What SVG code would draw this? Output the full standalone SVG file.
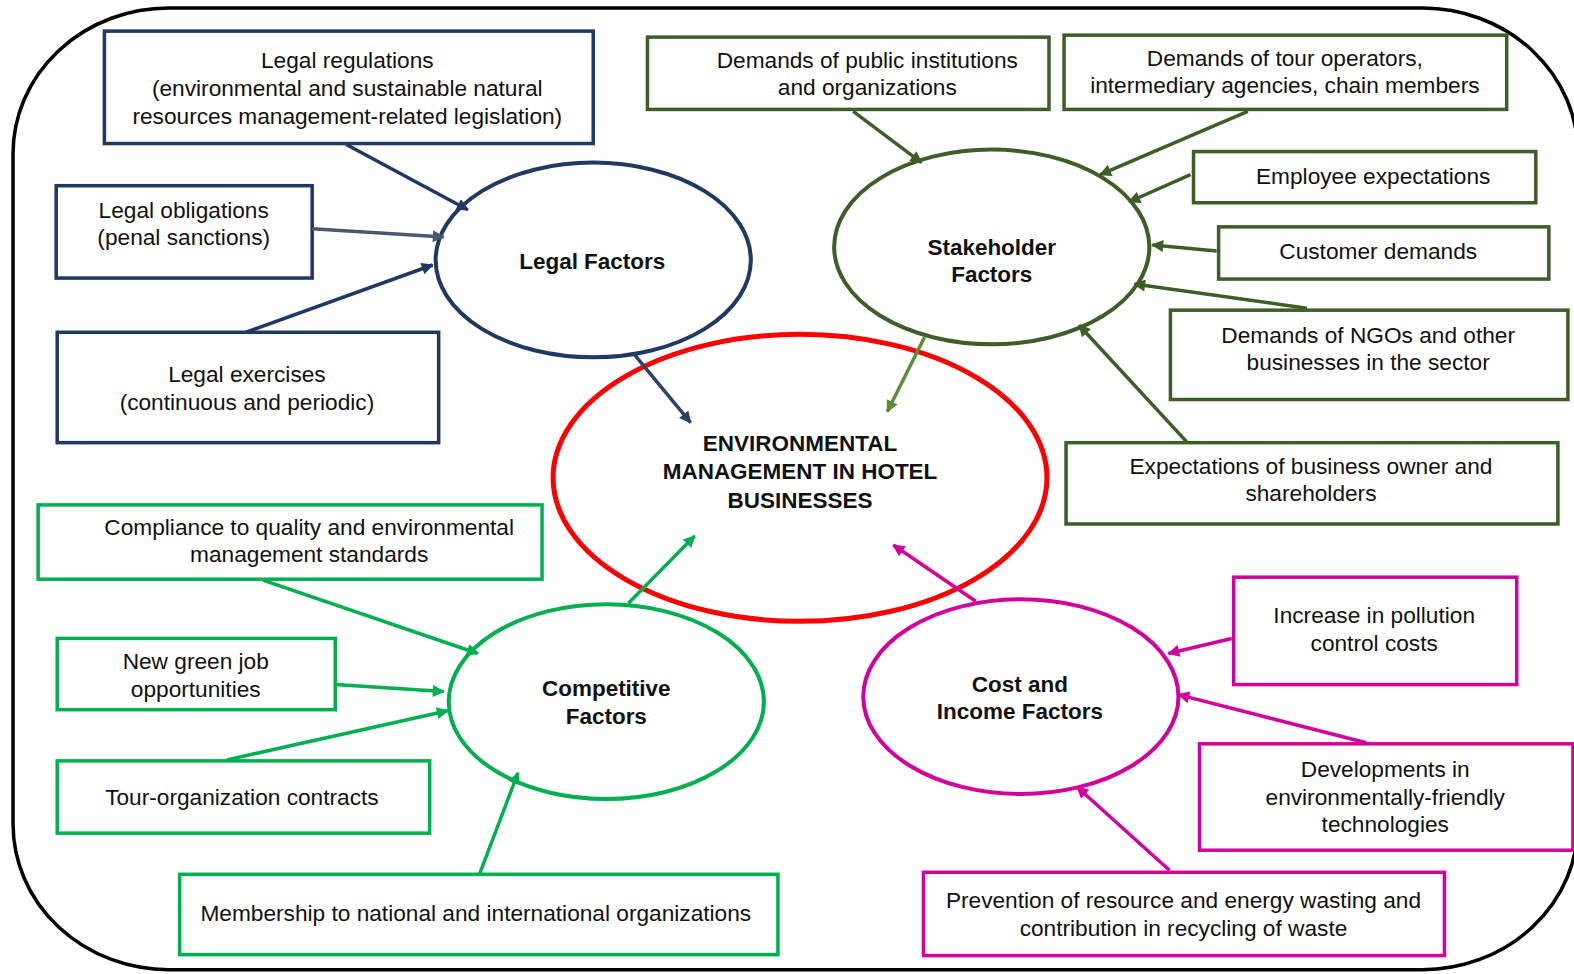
<svg xmlns="http://www.w3.org/2000/svg" width="1574" height="974" viewBox="0 0 1574 974">
  <style>
    text { font-family: "Liberation Sans", Arial, sans-serif; font-size: 22.6px; fill: #111; text-anchor: middle; }
    .b { font-weight: bold; font-size: 22.4px; }
    .box { fill: #fff; stroke-width: 3.5; }
    .ell { fill: #fff; stroke-width: 4; }
    .legal { stroke: #1f3864; }
    .stake { stroke: #3d5e26; }
    .comp { stroke: #00b050; }
    .cost { stroke: #d4009c; }
    .arr { fill: none; stroke-width: 3.5; }
  </style>
  <defs>
    <marker id="mLegal" viewBox="0 0 10 10" refX="9" refY="5" markerWidth="14" markerHeight="12" markerUnits="userSpaceOnUse" orient="auto"><path d="M0,0 L10,5 L0,10 Z" fill="#1f3864"/></marker>
    <marker id="mLegalGrey" viewBox="0 0 10 10" refX="9" refY="5" markerWidth="14" markerHeight="12" markerUnits="userSpaceOnUse" orient="auto"><path d="M0,0 L10,5 L0,10 Z" fill="#4a5873"/></marker>
    <marker id="mLegalOut" viewBox="0 0 10 10" refX="9" refY="5" markerWidth="14" markerHeight="12" markerUnits="userSpaceOnUse" orient="auto"><path d="M0,0 L10,5 L0,10 Z" fill="#2c4468"/></marker>
    <marker id="mStake" viewBox="0 0 10 10" refX="9" refY="5" markerWidth="14" markerHeight="12" markerUnits="userSpaceOnUse" orient="auto"><path d="M0,0 L10,5 L0,10 Z" fill="#3d5e26"/></marker>
    <marker id="mStakeOut" viewBox="0 0 10 10" refX="9" refY="5" markerWidth="14" markerHeight="12" markerUnits="userSpaceOnUse" orient="auto"><path d="M0,0 L10,5 L0,10 Z" fill="#5b8c3a"/></marker>
    <marker id="mComp" viewBox="0 0 10 10" refX="9" refY="5" markerWidth="14" markerHeight="12" markerUnits="userSpaceOnUse" orient="auto"><path d="M0,0 L10,5 L0,10 Z" fill="#00b050"/></marker>
    <marker id="mCost" viewBox="0 0 10 10" refX="9" refY="5" markerWidth="14" markerHeight="12" markerUnits="userSpaceOnUse" orient="auto"><path d="M0,0 L10,5 L0,10 Z" fill="#d4009c"/></marker>
  </defs>

  <rect width="1574" height="974" fill="#fff"/>
  <g transform="scale(1.0038)">
  <!-- outer frame -->
  <rect x="13" y="8" width="1559" height="958" rx="155" ry="145" fill="none" stroke="#000" stroke-width="3.5"/>

  <!-- central node -->
  <g id="env-management">
    <ellipse cx="797" cy="476" rx="246" ry="143" fill="#fff" stroke="#ff0000" stroke-width="5"/>
    <text class="b" x="797" y="449">ENVIRONMENTAL</text>
    <text class="b" x="797" y="477">MANAGEMENT IN HOTEL</text>
    <text class="b" x="797" y="506">BUSINESSES</text>
  </g>

  <!-- legal factors -->
  <g id="legal-factors">
    <ellipse class="ell legal" cx="591" cy="259" rx="157" ry="97"/>
    <text class="b" x="590" y="268">Legal Factors</text>
  </g>
  <g id="legal-regulations">
    <rect class="box legal" x="104" y="31" width="487" height="112"/>
    <text x="346" y="68">Legal regulations</text>
    <text x="346" y="96">(environmental and sustainable natural</text>
    <text x="346" y="124">resources management-related legislation)</text>
  </g>
  <g id="legal-obligations">
    <rect class="box legal" x="56" y="185" width="255" height="92"/>
    <text x="183" y="217">Legal obligations</text>
    <text x="183" y="244">(penal sanctions)</text>
  </g>
  <g id="legal-exercises">
    <rect class="box legal" x="57" y="331" width="380" height="110"/>
    <text x="246" y="381">Legal exercises</text>
    <text x="246" y="408">(continuous and periodic)</text>
  </g>

  <!-- stakeholder factors -->
  <g id="stakeholder-factors">
    <ellipse class="ell stake" cx="988" cy="246" rx="157" ry="97"/>
    <text class="b" x="988" y="254">Stakeholder</text>
    <text class="b" x="988" y="281">Factors</text>
  </g>
  <g id="public-institutions">
    <rect class="box stake" x="645" y="37" width="400" height="72"/>
    <text x="864" y="68">Demands of public institutions</text>
    <text x="864" y="95">and organizations</text>
  </g>
  <g id="tour-operators">
    <rect class="box stake" x="1060" y="35" width="441" height="74"/>
    <text x="1280" y="66">Demands of tour operators,</text>
    <text x="1280" y="93">intermediary agencies, chain members</text>
  </g>
  <g id="employee-expectations">
    <rect class="box stake" x="1189" y="151" width="341" height="51"/>
    <text x="1368" y="183">Employee expectations</text>
  </g>
  <g id="customer-demands">
    <rect class="box stake" x="1214" y="226" width="329" height="52"/>
    <text x="1373" y="258">Customer demands</text>
  </g>
  <g id="ngo-demands">
    <rect class="box stake" x="1166" y="309" width="396" height="89"/>
    <text x="1363" y="342">Demands of NGOs and other</text>
    <text x="1363" y="369">businesses in the sector</text>
  </g>
  <g id="owner-expectations">
    <rect class="box stake" x="1062" y="441" width="490" height="81"/>
    <text x="1306" y="472">Expectations of business owner and</text>
    <text x="1306" y="499">shareholders</text>
  </g>

  <!-- competitive factors -->
  <g id="competitive-factors">
    <ellipse class="ell comp" cx="604" cy="699" rx="157" ry="97"/>
    <text class="b" x="604" y="693">Competitive</text>
    <text class="b" x="604" y="721">Factors</text>
  </g>
  <g id="standards-compliance">
    <rect class="box comp" x="38" y="503" width="502" height="74"/>
    <text x="308" y="533">Compliance to quality and environmental</text>
    <text x="308" y="560">management standards</text>
  </g>
  <g id="green-jobs">
    <rect class="box comp" x="57" y="636" width="277" height="71"/>
    <text x="195" y="666">New green job</text>
    <text x="195" y="694">opportunities</text>
  </g>
  <g id="tour-contracts">
    <rect class="box comp" x="57" y="758" width="371" height="72"/>
    <text x="241" y="802">Tour-organization contracts</text>
  </g>
  <g id="memberships">
    <rect class="box comp" x="179" y="871" width="596" height="80"/>
    <text x="474" y="918">Membership to national and international organizations</text>
  </g>

  <!-- cost and income factors -->
  <g id="cost-income-factors">
    <ellipse class="ell cost" cx="1017" cy="694" rx="157" ry="97"/>
    <text class="b" x="1016" y="689">Cost and</text>
    <text class="b" x="1016" y="716">Income Factors</text>
  </g>
  <g id="pollution-costs">
    <rect class="box cost" x="1229" y="575" width="282" height="107"/>
    <text x="1369" y="621">Increase in pollution</text>
    <text x="1369" y="649">control costs</text>
  </g>
  <g id="green-technologies">
    <rect class="box cost" x="1195" y="741" width="372" height="106"/>
    <text x="1380" y="774">Developments in</text>
    <text x="1380" y="802">environmentally-friendly</text>
    <text x="1380" y="829">technologies</text>
  </g>
  <g id="waste-prevention">
    <rect class="box cost" x="920" y="869" width="519" height="83"/>
    <text x="1179" y="905">Prevention of resource and energy wasting and</text>
    <text x="1179" y="932">contribution in recycling of waste</text>
  </g>

  <!-- connectors -->
  <g id="connectors">
    <line class="arr" stroke="#1f3864" x1="345" y1="144" x2="466" y2="209" marker-end="url(#mLegal)"/>
    <line class="arr" stroke="#4a5873" x1="311" y1="228" x2="442" y2="236" marker-end="url(#mLegalGrey)"/>
    <line class="arr" stroke="#1f3864" x1="245" y1="331" x2="431" y2="264" marker-end="url(#mLegal)"/>
    <line class="arr" stroke="#2c4468" stroke-width="3" x1="631" y1="352" x2="688" y2="421" marker-end="url(#mLegalOut)"/>

    <line class="arr" stroke="#3d5e26" x1="850" y1="111" x2="918" y2="162" marker-end="url(#mStake)"/>
    <line class="arr" stroke="#3d5e26" x1="1243" y1="111" x2="1096" y2="174" marker-end="url(#mStake)"/>
    <line class="arr" stroke="#3d5e26" x1="1186" y1="174" x2="1125" y2="201" marker-end="url(#mStake)"/>
    <line class="arr" stroke="#3d5e26" x1="1212" y1="250" x2="1148" y2="244" marker-end="url(#mStake)"/>
    <line class="arr" stroke="#3d5e26" x1="1302" y1="307" x2="1130" y2="283" marker-end="url(#mStake)"/>
    <line class="arr" stroke="#3d5e26" x1="1182" y1="440" x2="1075" y2="324" marker-end="url(#mStake)"/>
    <line class="arr" stroke="#5b8c3a" stroke-width="3" x1="921" y1="336" x2="884" y2="410" marker-end="url(#mStakeOut)"/>

    <line class="arr" stroke="#00b050" x1="262" y1="578" x2="476" y2="651" marker-end="url(#mComp)"/>
    <line class="arr" stroke="#00b050" x1="334" y1="682" x2="442" y2="689" marker-end="url(#mComp)"/>
    <line class="arr" stroke="#00b050" x1="226" y1="757" x2="446" y2="708" marker-end="url(#mComp)"/>
    <line class="arr" stroke="#00b050" x1="478" y1="870" x2="516" y2="770" marker-end="url(#mComp)"/>
    <line class="arr" stroke="#00b050" x1="626" y1="601" x2="692" y2="534" marker-end="url(#mComp)"/>

    <line class="arr" stroke="#d4009c" x1="1227" y1="636" x2="1164" y2="651" marker-end="url(#mCost)"/>
    <line class="arr" stroke="#d4009c" x1="1361" y1="740" x2="1174" y2="692" marker-end="url(#mCost)"/>
    <line class="arr" stroke="#d4009c" x1="1165" y1="867" x2="1073" y2="784" marker-end="url(#mCost)"/>
    <line class="arr" stroke="#d4009c" x1="972" y1="599" x2="890" y2="543" marker-end="url(#mCost)"/>
  </g>
  </g>
</svg>
